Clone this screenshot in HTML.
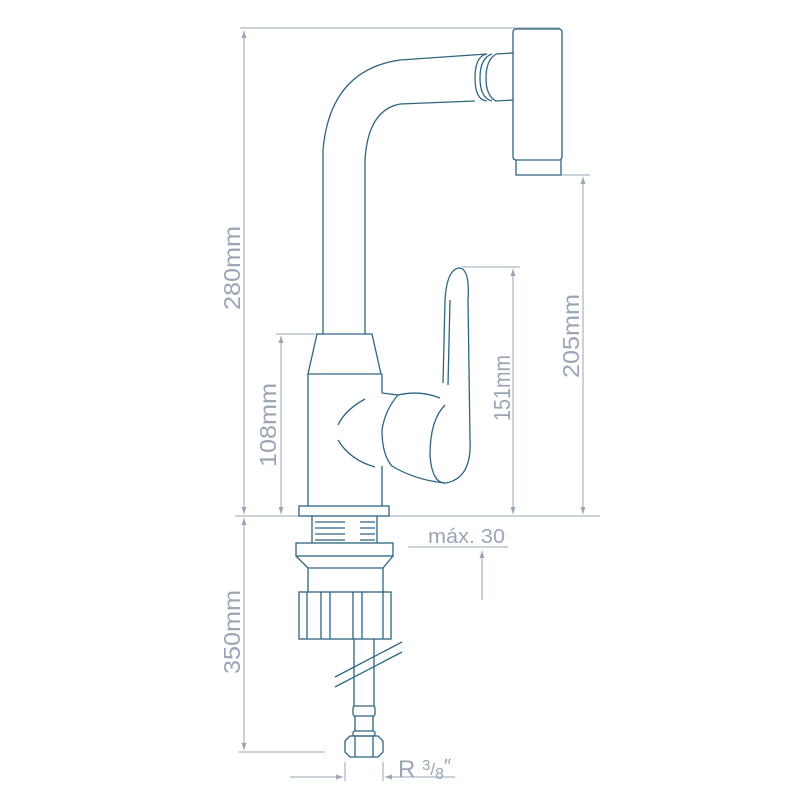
<!DOCTYPE html>
<html><head><style>body{margin:0;background:#fff}svg{display:block}</style></head><body>
<svg width="800" height="800" viewBox="0 0 800 800" xmlns="http://www.w3.org/2000/svg">
<defs><marker id="a" markerWidth="8" markerHeight="8" refX="7" refY="4" orient="auto" markerUnits="userSpaceOnUse"><path d="M0,1.5 L7,4 L0,6.5 Z" fill="#9aa6b6"/></marker></defs>
<g stroke="#9aa6b6" stroke-width="1" fill="none">
<line x1="240" y1="28" x2="560" y2="28"/>
<line x1="244" y1="505" x2="244" y2="31" marker-end="url(#a)"/>
<line x1="235" y1="516" x2="600" y2="516"/>
<line x1="276" y1="334" x2="318" y2="334"/>
<line x1="281" y1="505" x2="281" y2="336" marker-end="url(#a)"/>
<line x1="281" y1="340" x2="281" y2="514" marker-end="url(#a)"/>
<line x1="244" y1="330" x2="244" y2="514" marker-end="url(#a)"/>
<line x1="462" y1="267" x2="520" y2="267"/>
<line x1="513" y1="400" x2="513" y2="269" marker-end="url(#a)"/>
<line x1="513" y1="400" x2="513" y2="514" marker-end="url(#a)"/>
<line x1="516" y1="175" x2="590" y2="175"/>
<line x1="583" y1="350" x2="583" y2="177" marker-end="url(#a)"/>
<line x1="583" y1="350" x2="583" y2="514" marker-end="url(#a)"/>
<line x1="244" y1="600" x2="244" y2="518" marker-end="url(#a)"/>
<line x1="244" y1="600" x2="244" y2="750" marker-end="url(#a)"/>
<line x1="238" y1="752" x2="325" y2="752"/>
<line x1="408" y1="547" x2="508" y2="547"/>
<line x1="482" y1="600" x2="482" y2="551" marker-end="url(#a)"/>
<line x1="345" y1="762" x2="345" y2="781"/>
<line x1="383" y1="762" x2="383" y2="781"/>
<line x1="290" y1="777" x2="343" y2="777" marker-end="url(#a)"/>
<line x1="455" y1="777" x2="385" y2="777" marker-end="url(#a)"/>
</g>
<g fill="#9aa6b6" font-family="'Liberation Sans',sans-serif" font-size="23">
<text transform="translate(240,268) rotate(-90)" text-anchor="middle" textLength="84" lengthAdjust="spacingAndGlyphs">280mm</text>
<text transform="translate(276,425) rotate(-90)" text-anchor="middle" textLength="84" lengthAdjust="spacingAndGlyphs">108mm</text>
<text transform="translate(510,388) rotate(-90)" text-anchor="middle" textLength="66" lengthAdjust="spacingAndGlyphs">151mm</text>
<text transform="translate(579,336) rotate(-90)" text-anchor="middle" textLength="84" lengthAdjust="spacingAndGlyphs">205mm</text>
<text transform="translate(240,632) rotate(-90)" text-anchor="middle" textLength="84" lengthAdjust="spacingAndGlyphs">350mm</text>
<text x="428" y="543" font-size="20" textLength="77" lengthAdjust="spacingAndGlyphs">máx. 30</text>
<text x="398" y="777" font-size="24">R <tspan font-size="15" dy="-7">3</tspan><tspan font-size="17" dy="5">/</tspan><tspan font-size="16" dy="4">8</tspan><tspan font-size="20" dy="-6">″</tspan></text>
</g>
<g stroke="#2d6580" stroke-width="1.3" fill="none">
<rect x="513" y="29" width="49" height="131" rx="3"/>
<path d="M516,160 L516,175 L561,175 L561,160"/>
<path d="M487,54 L400,60 Q330,70 323,150 L323,334"/>
<path d="M475,101 L400,104 Q368,110 365,160 L365,334"/>
<path d="M487,54 Q475,56 475,78 Q475,100 487,101"/>
<path d="M492,54 Q480,58 480,78 Q480,98 492,101"/>
<path d="M496,54 Q486,60 486,78 Q486,96 496,101 L513,100 M496,54 L513,53"/>
<path d="M317,334 L372,334 L381,374 L308,374 Z"/>
<path d="M308,374 L308,506 M382,374 L382,393 M382,466 L382,506"/>
<path d="M365,399 Q345,410 338,425 M338,440 Q350,460 375,467"/>
<path d="M382,393 L398,395 Q385,410 382,430 Q382,455 392,466 Q415,480 445,483"/>
<path d="M398,395 Q420,390 440,398"/>
<path d="M443,383 L445,300 Q447,268 460,268 Q470,270 468,300 L470,440 Q472,478 446,483 Q432,484 430,455 Q430,420 445,405"/>
<path d="M450,300 L448,385"/>
<rect x="299" y="506" width="90" height="10"/>
<path d="M312,516 L312,543 M377,516 L377,543 M315,522 H345 M315,528 H345 M315,534 H345 M315,540 H345 M360,522 H375 M360,528 H375 M360,534 H375 M360,540 H375"/>
<rect x="296" y="543" width="97" height="13"/>
<path d="M296,556 L308,568 L383,568 L393,556 M308,568 L308,592 M383,568 L383,592"/>
<rect x="299" y="592" width="92" height="47"/>
<path d="M307,592 V639 M321,592 V639 M330,592 V639 M353,592 V639 M362,592 V639 M383,592 V639"/>
<path d="M354,639 V706 M374,639 V706"/>
<path d="M335,677 L402,642 M335,687 L402,652"/>
<rect x="353" y="706" width="22" height="10" rx="2"/>
<path d="M355,716 V731 M373,716 V731"/>
<rect x="353" y="731" width="22" height="5" rx="2"/>
<path d="M345,741 L350,736 L378,736 L383,741 L383,752 L378,757 L350,757 L345,752 Z M355,736 V757 M373,736 V757"/>
</g>
</svg>
</body></html>
